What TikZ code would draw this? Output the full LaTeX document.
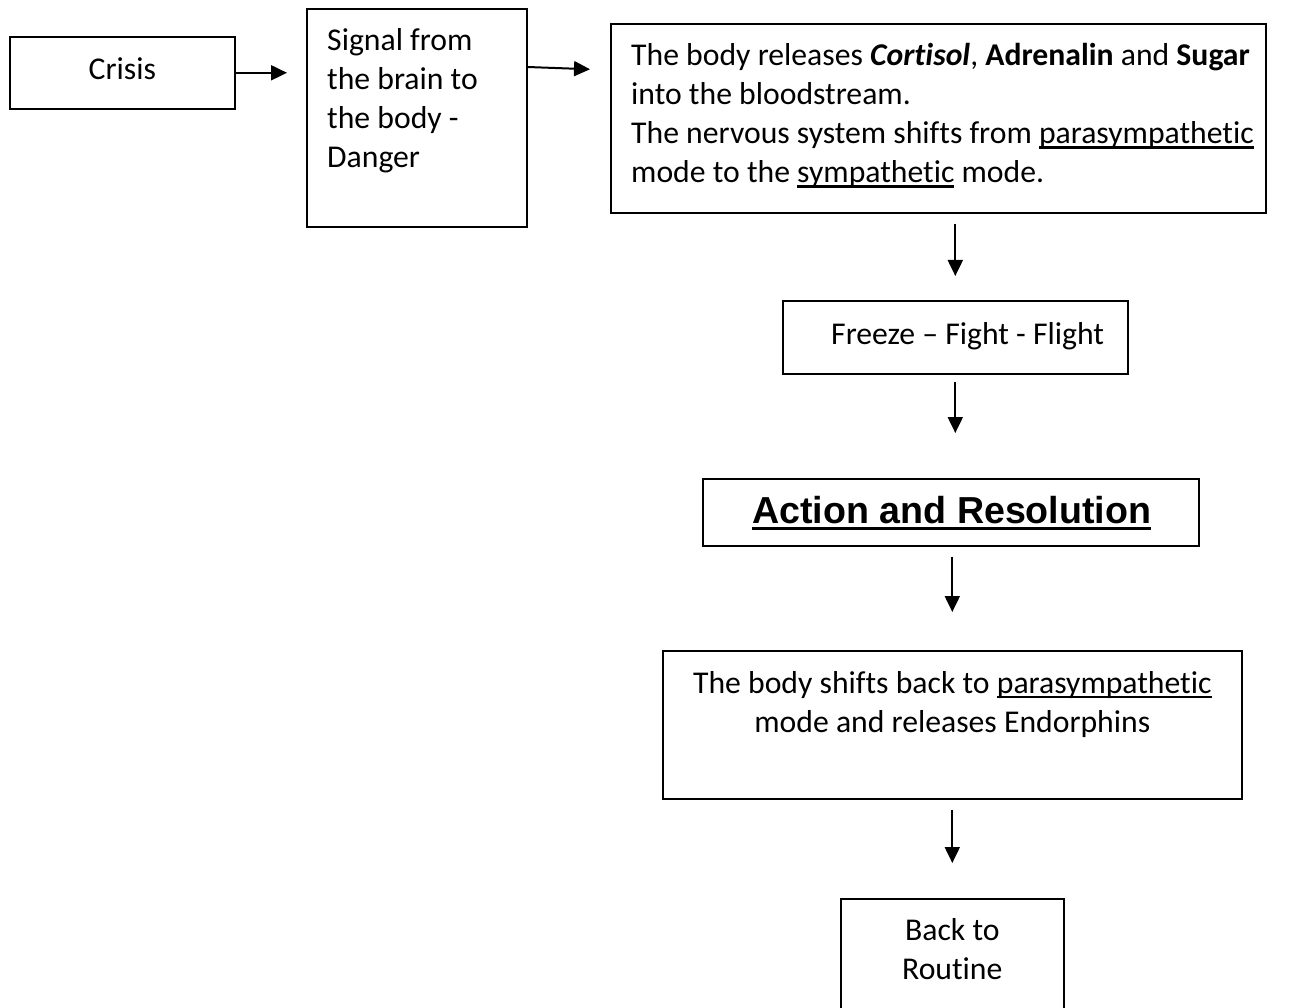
\documentclass[tikz,border=0pt]{standalone}
\usepackage{fontspec}
\setmainfont{Carlito}[Ligatures={NoCommon}]
\newfontfamily\headfont{Liberation Sans}
\usetikzlibrary{arrows.meta,calc}

% underline set just below the baseline, crossing the descenders
\newcommand{\ulin}[1]{\setbox0\hbox{#1}\rlap{\rule[-0.16em]{\wd0}{0.065em}}\box0\relax}

\tikzset{
  box/.style={draw, line width=1.6pt, inner sep=0pt, anchor=north west},
  txt/.style={inner sep=0pt, font=\fontsize{31.7}{39}\selectfont},
  arr/.style={line width=2pt, -{Triangle[length=16pt,width=15pt]}}
}

\begin{document}
\begin{tikzpicture}[x=1pt,y=-1pt]
\clip (0,0) rectangle (1300,1008);
\fill[white] (0,0) rectangle (1300,1008);

% boxes
\node[box, minimum width=225pt, minimum height=72pt]  (crisis)  at (9,36) {};
\node[box, minimum width=220pt, minimum height=218pt] (signal)  at (306,8) {};
\node[box, minimum width=655pt, minimum height=189pt] (release) at (610,23) {};
\node[box, minimum width=345pt, minimum height=73pt]  (freeze)  at (782,300) {};
\node[box, minimum width=496pt, minimum height=67pt]  (action)  at (702,478) {};
\node[box, minimum width=579pt, minimum height=148pt] (shift)   at (662,650) {};
\node[box, minimum width=223pt, minimum height=130pt] (routine) at (840,898) {};

% texts
\node[txt] (tcrisis) at ($(crisis.center)+(0,-4)$) {Crisis};
\node[txt, anchor=north west, align=left] (tsignal) at ($(signal.north west)+(21,20)$)
  {Signal from\\the brain to\\the body -\\Danger};
\node[txt, anchor=north west, align=left] (trelease) at ($(release.north west)+(21,20)$)
  {The body releases \textbf{\textit{Cortisol}}, \textbf{Adrenalin} and \textbf{Sugar}\\
   into the bloodstream.\\
   The nervous system shifts from \ulin{parasympathetic}\\
   mode to the \ulin{sympathetic} mode.};
\node[txt, anchor=west] (tfreeze) at ($(freeze.west)+(49,-1)$) {Freeze – Fight - Flight};
\node[inner sep=0pt, font=\headfont\bfseries\fontsize{37.6}{44}\selectfont] (taction) at ($(action.center)+(1,1)$)
  {\ulin{Action and Resolution}};
\node[txt, anchor=north, align=center] (tshift) at ($(shift.north)+(0,21)$)
  {The body shifts back to \ulin{parasympathetic}\\mode and releases Endorphins};
\node[txt, anchor=north, align=center] (troutine) at ($(routine.north)+(0,20)$)
  {Back to\\Routine};

% connectors
\draw[arr, shorten >=19pt] (crisis.east) -- (crisis.east -| signal.west);
\draw[arr, shorten >=20pt] ($(signal.north east)+(0,59)$) -- ($(release.north west)+(0,47)$);
\draw[arr, shorten <=10pt, shorten >=24pt] (release.south -| freeze.north) -- (freeze.north);
\draw[arr, shorten <=7pt, shorten >=45pt] (freeze.south) -- (freeze.south |- action.north);
\draw[arr, shorten <=10pt, shorten >=38pt] (action.south -| shift.north) -- (shift.north);
\draw[arr, shorten <=10pt, shorten >=35pt] (shift.south) -- (routine.north);
\end{tikzpicture}
\end{document}
